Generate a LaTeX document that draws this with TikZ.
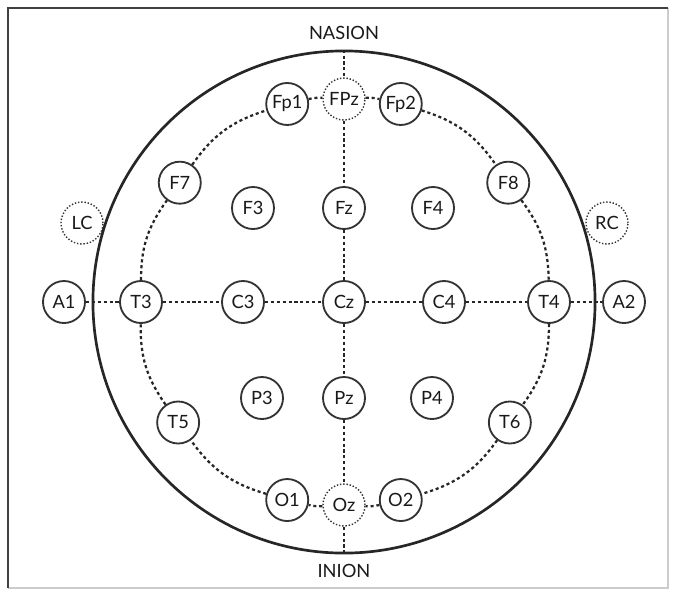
\documentclass[tikz,border=0pt]{standalone}
\usepackage{fontspec}
\setmainfont{Lato}
\begin{document}
\begin{tikzpicture}[x=0.025cm, y=0.025cm,
        electrode/.style={draw=black!80, circle, line width=1.3pt, minimum size=1.05cm, inner sep=0pt, fill=white, text=black!90, font=\fontsize{13}{15}\selectfont},
        refpoint/.style={electrode, line width=1pt, dash pattern=on 1pt off 1.3pt},
        link/.style={draw=black!85, line width=1.6pt, dash pattern=on 2.2pt off 2pt},
        landmark/.style={text=black!90, font=\fontsize{13}{15}\selectfont}
    ]
        \useasboundingbox (-344,302) rectangle (331,-292);
        % frame
        \draw[black!20, line width=1pt] (-336,-286) -- (324,-286) -- (324,294);
        \draw[black!75, line width=1.6pt] (-336,-286) -- (-336,294) -- (324,294);

        \node[draw=black!85, circle, line width=1.9pt, minimum size=12.55cm] (head) at (0,0) {};
        \node[landmark] (nasion) at (0,269) {NASION};
        \node[landmark] (inion) at (0,-269) {INION};

        \node[refpoint] (FPz) at (90:203) {FPz};
        \node[electrode] (Fp1) at (106:206) {Fp1};
        \node[electrode] (Fp2) at (74:206) {Fp2};
        \node[electrode] (F7) at (144:203) {F7};
        \node[electrode] (F8) at (36:203) {F8};
        \node[electrode] (F3) at (-91,94) {F3};
        \node[electrode] (Fz) at (0,94) {Fz};
        \node[electrode] (F4) at (89,94) {F4};
        \node[refpoint] (LC) at (-262,79) {LC};
        \node[refpoint] (RC) at (263,79) {RC};
        \node[electrode] (A1) at (-280,0) {A1};
        \node[electrode] (T3) at (180:203) {T3};
        \node[electrode] (C3) at (-101,0) {C3};
        \node[electrode] (Cz) at (0,0) {Cz};
        \node[electrode] (C4) at (100,0) {C4};
        \node[electrode] (T4) at (0:205) {T4};
        \node[electrode] (A2) at (280,0) {A2};
        \node[electrode] (T5) at (216:205) {T5};
        \node[electrode] (P3) at (-82,-96) {P3};
        \node[electrode] (Pz) at (0,-96) {Pz};
        \node[electrode] (P4) at (88,-96) {P4};
        \node[electrode] (T6) at (324:205) {T6};
        \node[electrode] (O1) at (254:206) {O1};
        \node[refpoint] (Oz) at (270:203) {Oz};
        \node[electrode] (O2) at (286:206) {O2};

        % midline and ear line
        \draw[link] (head.north) -- (FPz) -- (Fz) -- (Cz) -- (Pz) -- (Oz) -- (head.south);
        \draw[link] (A1) -- (T3) -- (C3) -- (Cz) -- (C4) -- (T4) -- (A2);

        % outer ring
        \foreach \a/\b/\bend in {FPz/Fp2/8, Fp2/F8/19, F8/T4/18, T4/T6/18, T6/O2/19, O2/Oz/8,
                                 Oz/O1/8, O1/T5/19, T5/T3/18, T3/F7/18, F7/Fp1/19, Fp1/FPz/8}
            \draw[link] (\a) to[bend left=\bend] (\b);
    \end{tikzpicture}
\end{document}
